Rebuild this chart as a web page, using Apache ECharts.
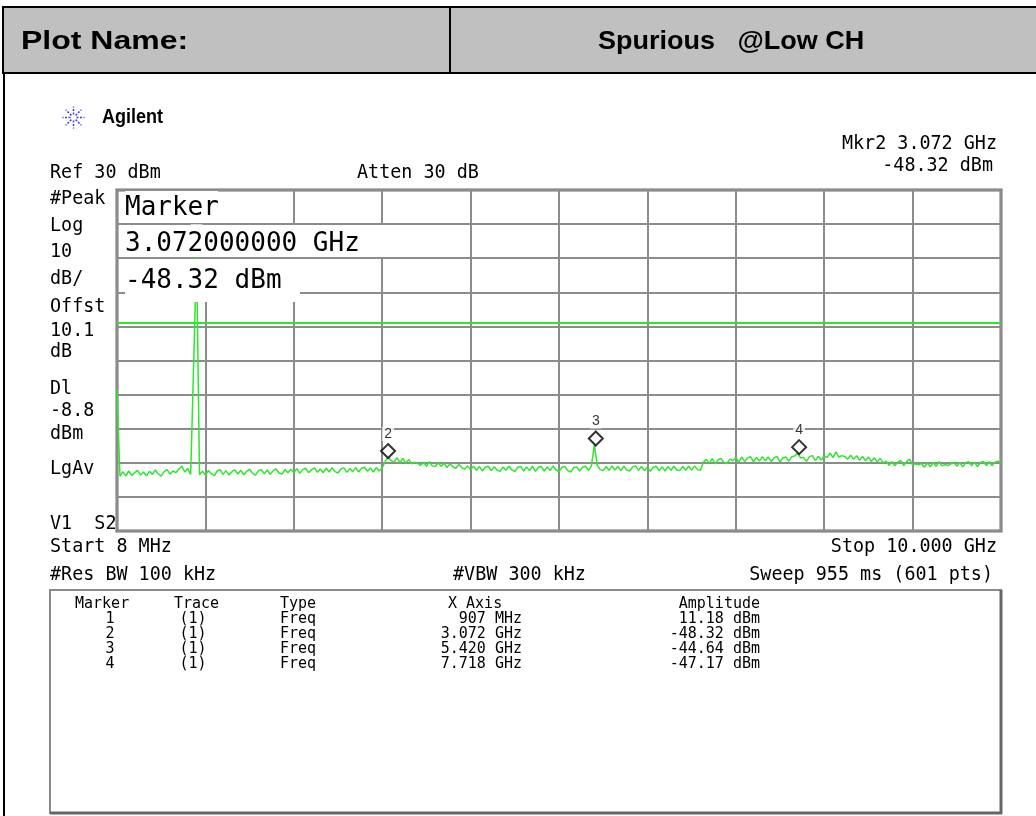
<!DOCTYPE html>
<html>
<head>
<meta charset="utf-8">
<title>Spurious @Low CH</title>
<script src="https://cdn.jsdelivr.net/npm/echarts@6/dist/echarts.min.js"></script>
<style>
  html, body { margin: 0; padding: 0; background: #fff; }
  #chart { width: 1036px; height: 816px; }
</style>
</head>
<body>
<div id="chart"></div>
<script>
// sweep setup (from the analyzer screen)
const startGHz = 0.008
const stopGHz = 10.0
const sweepPts = 601
const refLevel = 30
const dbPerDiv = 10
const displayLine = -8.8

// trace, one value every 2nd sweep point (dBm)
const traceStep = 2
const trace = [
  -28.6, -53.9, -52.6, -53.8, -52.4, -53.7, -52.9, -52.2, -53.6, -52.7,
  -53.8, -52.5, -53.4, -52.1, -53.2, -53.9, -52.6, -52.0, -53.3, -52.4,
  -52.9, -51.8, -51.0, -52.7, -51.7, -53.4, -21.5, 11.18, -53.5, -52.5,
  -53.6, -52.3, -53.2, -53.8, -52.4, -52.0, -53.4, -52.3, -53.6, -52.6,
  -52.1, -53.3, -52.2, -53.5, -52.5, -51.9, -53.1, -53.6, -52.3, -52.0,
  -53.2, -52.1, -53.4, -52.3, -51.8, -53.0, -53.3, -52.0, -52.9, -51.9,
  -52.9, -51.7, -53.1, -52.0, -51.6, -52.9, -52.0, -51.5, -52.8, -51.8,
  -52.9, -51.6, -52.7, -51.4, -52.6, -53.0, -51.8, -51.5, -52.8, -51.7,
  -52.6, -51.4, -52.7, -51.6, -51.3, -52.5, -51.5, -52.7, -51.4, -52.4,
  -51.5, -49.6, -48.32, -49.3, -49.9, -48.5, -49.9, -48.7, -50.1, -49.0,
  -50.3, -49.8, -50.1, -50.8, -49.8, -51.0, -49.7, -50.9, -51.1, -50.0,
  -51.0, -50.1, -51.4, -50.3, -51.2, -51.6, -50.5, -51.4, -51.9, -50.9,
  -52.0, -51.0, -52.2, -51.1, -52.4, -51.3, -51.0, -52.3, -51.2, -52.1,
  -52.5, -51.2, -52.2, -51.0, -52.1, -52.6, -51.3, -51.1, -52.4, -51.2,
  -52.3, -51.0, -52.5, -51.3, -51.1, -52.4, -51.2, -52.3, -50.9, -52.1,
  -52.6, -51.3, -51.1, -52.3, -52.7, -51.4, -51.2, -52.4, -51.3, -51.0,
  -52.2, -50.9, -44.64, -50.8, -52.0, -52.3, -51.1, -52.2, -50.9, -52.1,
  -51.1, -52.3, -51.0, -52.1, -52.4, -51.2, -50.9, -52.2, -51.1, -52.3,
  -51.2, -52.5, -51.3, -51.0, -52.3, -51.2, -52.4, -51.1, -52.2, -51.0,
  -52.1, -52.3, -51.1, -52.2, -51.0, -52.1, -50.9, -52.0, -52.2, -49.8,
  -49.0, -50.1, -48.8, -50.3, -49.1, -48.7, -50.0, -50.2, -48.9, -49.4,
  -48.5, -49.8, -48.3, -49.6, -48.6, -48.2, -49.7, -48.4, -49.5, -48.2,
  -49.4, -48.3, -49.6, -48.5, -48.1, -49.7, -48.6, -48.3, -49.5, -48.2,
  -48.0, -47.17, -48.6, -48.4, -49.6, -48.2, -47.9, -49.3, -48.1, -49.2,
  -48.0, -48.4, -47.2, -48.5, -46.8, -48.3, -47.9, -48.2, -48.9, -47.8,
  -49.0, -47.9, -49.3, -48.1, -49.4, -48.3, -49.6, -48.5, -49.8, -48.7,
  -50.0, -49.5, -50.7, -49.7, -50.9, -49.8, -49.3, -50.8, -49.6, -48.9,
  -50.7, -50.3, -50.6, -50.2, -51.3, -50.0, -51.2, -49.9, -51.0, -49.7,
  -50.9, -50.5, -50.8, -50.3, -49.8, -51.0, -49.9, -51.2, -50.0, -49.7,
  -50.9, -49.8, -51.1, -49.9, -49.6, -50.8, -49.7, -50.9, -49.8, -49.5,
  -50.0
]

// marker table
const markerNo = ['1', '2', '3', '4']
const markerTrace = ['(1)', '(1)', '(1)', '(1)']
const markerType = ['Freq', 'Freq', 'Freq', 'Freq']
const markerFreqGHz = [0.907, 3.072, 5.420, 7.718]
const markerFreqText = ['907 MHz', '3.072 GHz', '5.420 GHz', '7.718 GHz']
const markerAmp = [11.18, -48.32, -44.64, -47.17]

const GREEN = '#2ee62e'
const MONO = '"DejaVu Sans Mono", monospace'
const SANS = '"Liberation Sans", Arial, sans-serif'

function freqToPt(f) {
  return (f - startGHz) / (stopGHz - startGHz) * (sweepPts - 1)
}

function txt(x, y, text, o) {
  o = o || {}
  return {
    type: 'text',
    x: x,
    y: y,
    z: 100,
    scaleX: o.sx || 1,
    scaleY: o.sy || 1,
    style: {
      text: text,
      x: 0,
      y: 0,
      fill: o.color || '#000',
      font: (o.weight || 'normal') + ' ' + (o.size || 20) + 'px ' + (o.family || MONO),
      textAlign: o.align || 'left',
      textVerticalAlign: 'middle'
    }
  }
}
function box(x, y, w, h, fill, stroke, lw, z) {
  return {
    type: 'rect', z: z || 90,
    shape: { x: x, y: y, width: w, height: h },
    style: { fill: fill, stroke: stroke || null, lineWidth: lw || 0 }
  }
}
function line(x1, y1, x2, y2, color, lw, z) {
  return {
    type: 'line', z: z || 95,
    shape: { x1: x1, y1: y1, x2: x2, y2: y2 },
    style: { stroke: color, lineWidth: lw }
  }
}

const chart = echarts.init(document.getElementById('chart'), null, { renderer: 'canvas' })

const g = []
// header row
g.push(box(3, 7, 1040, 66, '#c0c0c0', '#000', 2, 80))
g.push(line(450, 7, 450, 73, '#000', 2))
g.push(line(4, 73, 4, 816, '#000', 2))
g.push(txt(21, 42, 'Plot Name:', { family: SANS, weight: 'bold', size: 25, sx: 1.28 }))
g.push(txt(598, 42, 'Spurious   @Low CH', { family: SANS, weight: 'bold', size: 25, sx: 1.08 }))

// agilent logo
for (let a = 0; a < 8; a++) {
  const ang = a * Math.PI / 4
  g.push({
    type: 'line', z: 95,
    shape: { x1: 73.5 + 3 * Math.cos(ang), y1: 117.5 + 3 * Math.sin(ang), x2: 73.5 + 11 * Math.cos(ang), y2: 117.5 + 11 * Math.sin(ang) },
    style: { stroke: '#3c3ce6', lineWidth: 1.5, lineDash: [2, 1.5] }
  })
}
g.push(txt(102, 117, 'Agilent', { family: SANS, weight: 'bold', size: 20, sx: 0.9 }))

// analyzer annotations
const sm = { size: 20, sx: 0.92 }
g.push(txt(50, 173, 'Ref 30 dBm', sm))
g.push(txt(357, 173, 'Atten 30 dB', sm))
g.push(txt(997, 144, 'Mkr2 3.072 GHz', Object.assign({ align: 'right' }, sm)))
g.push(txt(993, 166, '-48.32 dBm', Object.assign({ align: 'right' }, sm)))
const leftCol = [
  ['#Peak', 199], ['Log', 226], ['10', 252], ['dB/', 279], ['Offst', 307],
  ['10.1', 331], ['dB', 352], ['Dl', 389], ['-8.8', 411], ['dBm', 434],
  ['LgAv', 469], ['V1  S2', 524]
]
leftCol.forEach(function (r) { g.push(txt(50, r[1], r[0], sm)) })
g.push(txt(50, 547, 'Start 8 MHz', sm))
g.push(txt(997, 547, 'Stop 10.000 GHz', Object.assign({ align: 'right' }, sm)))
g.push(txt(50, 575, '#Res BW 100 kHz', sm))
g.push(txt(453, 575, '#VBW 300 kHz', sm))
g.push(txt(993, 575, 'Sweep 955 ms (601 pts)', Object.assign({ align: 'right' }, sm)))

// active marker readout inside the graticule
const big = { size: 26 }
g.push(box(125, 191, 93, 32, '#fff'))
g.push(txt(125, 208, 'Marker', big))
g.push(box(125, 225, 260, 32, '#fff'))
g.push(txt(125, 244, '3.072000000 GHz', big))
g.push(box(125, 259, 175, 43, '#fff'))
g.push(txt(125, 281, '-48.32 dBm', big))

// marker table
g.push(box(50, 590, 951, 223, '#fff', '#8a8a8a', 2, 85))
g.push(line(50, 813, 1002, 813, '#666', 3))
g.push(line(1001, 590, 1001, 814, '#666', 3))
const ts = { size: 15 }
g.push(txt(75, 604, 'Marker', ts))
g.push(txt(174, 604, 'Trace', ts))
g.push(txt(280, 604, 'Type', ts))
g.push(txt(448, 604, 'X Axis', ts))
g.push(txt(760, 604, 'Amplitude', Object.assign({ align: 'right' }, ts)))
const rowY = [619.5, 634.5, 649.5, 664.5]
markerNo.forEach(function (m, i) {
  g.push(txt(110, rowY[i], m, Object.assign({ align: 'center' }, ts)))
  g.push(txt(193, rowY[i], markerTrace[i], Object.assign({ align: 'center' }, ts)))
  g.push(txt(280, rowY[i], markerType[i], ts))
  g.push(txt(522, rowY[i], markerFreqText[i], Object.assign({ align: 'right' }, ts)))
  g.push(txt(760, rowY[i], markerAmp[i].toFixed(2) + ' dBm', Object.assign({ align: 'right' }, ts)))
})

chart.setOption({
  animation: false,
  backgroundColor: '#fff',
  grid: {
    left: 117, top: 190, width: 884, height: 341,
    show: true, borderColor: '#707070', borderWidth: 3, backgroundColor: '#fff'
  },
  xAxis: {
    type: 'value', min: 0, max: sweepPts - 1, interval: (sweepPts - 1) / 10,
    axisLine: { show: false }, axisTick: { show: false }, axisLabel: { show: false },
    splitLine: { show: true, lineStyle: { color: '#8c8c8c', width: 2 } }
  },
  yAxis: {
    type: 'value', min: refLevel - 10 * dbPerDiv, max: refLevel, interval: dbPerDiv,
    axisLine: { show: false }, axisTick: { show: false }, axisLabel: { show: false },
    splitLine: { show: true, lineStyle: { color: '#8c8c8c', width: 2 } }
  },
  series: [
    {
      name: 'Trace 1',
      type: 'line',
      data: trace.map(function (v, i) { return [i * traceStep, v] }),
      showSymbol: false,
      lineStyle: { color: GREEN, width: 1.5 },
      clip: true,
      markLine: {
        silent: true,
        symbol: 'none',
        label: { show: false },
        lineStyle: { color: GREEN, width: 2, type: 'solid' },
        data: [{ yAxis: displayLine }]
      }
    },
    {
      name: 'Markers',
      type: 'scatter',
      data: markerFreqGHz.map(function (f, i) { return [freqToPt(f), markerAmp[i]] }),
      symbol: 'diamond',
      symbolSize: 14,
      symbolOffset: [0, -6],
      itemStyle: { color: '#fff', borderColor: '#000', borderWidth: 2 },
      label: {
        show: true,
        position: 'top',
        distance: 2,
        formatter: function (p) { return markerNo[p.dataIndex] },
        color: '#000',
        fontFamily: SANS,
        fontSize: 14,
        backgroundColor: '#fff',
        padding: [0, 2]
      },
      z: 5
    }
  ],
  graphic: g
})
</script>
</body>
</html>
